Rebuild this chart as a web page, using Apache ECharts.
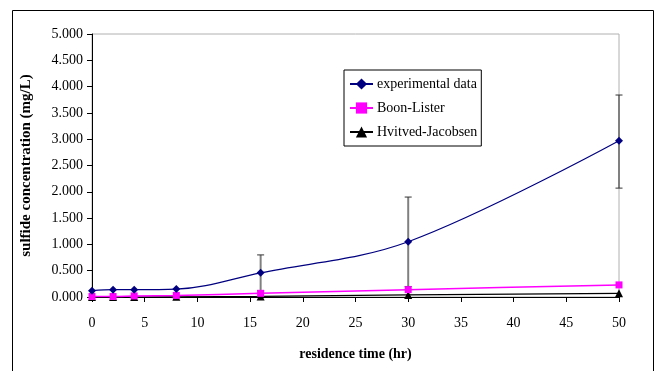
<!DOCTYPE html>
<html>
<head>
<meta charset="utf-8">
<script src="https://cdn.jsdelivr.net/npm/echarts@6/dist/echarts.min.js"></script>
<style>
html, body { margin: 0; padding: 0; background: #fff; }
#main { width: 659px; height: 371px; }
</style>
</head>
<body>
<div id="main"></div>
<script>
// residence time (hr)
var times = [0, 2, 4, 8, 16, 30, 50];
var experimental = [0.12, 0.14, 0.14, 0.15, 0.46, 1.05, 2.97];
var boonLister = [0.01, 0.01, 0.02, 0.03, 0.07, 0.14, 0.23];
var hvitved = [0.0, 0.0, 0.0, 0.005, 0.01, 0.04, 0.07];
// error bars on the experimental data: [time, low, high]
var errTimes = [16, 30, 50];
var errLow = [0.12, 0.20, 2.07];
var errHigh = [0.80, 1.90, 3.84];

function pairs(xs, ys) {
    return xs.map(function (x, i) { return [x, ys[i]]; });
}
var errData = errTimes.map(function (t, i) { return [t, errLow[i], errHigh[i]]; });

var dom = document.getElementById('main');
var chart = echarts.init(dom);
var serif = 'Liberation Serif';

var option = {
    animation: false,
    textStyle: { fontFamily: serif },
    graphic: [{
        type: 'rect',
        shape: { x: 12.5, y: 10.5, width: 641, height: 400 },
        style: { fill: 'none', stroke: '#000', lineWidth: 1 },
        z: -1
    }],
    grid: {
        left: 92, right: 40, top: 34, bottom: 74,
        show: true,
        borderColor: '#b0b0b0',
        borderWidth: 1
    },
    legend: {
        orient: 'vertical',
        left: 344, top: 70,
        padding: [7, 4, 7, 5],
        itemGap: 10,
        itemWidth: 23,
        itemHeight: 14,
        borderColor: '#000',
        borderWidth: 1,
        backgroundColor: '#fff',
        textStyle: { fontFamily: serif, fontSize: 14, color: '#000', padding: [0, 0, 0, -1] },
        data: ['experimental data', 'Boon-Lister', 'Hvitved-Jacobsen']
    },
    xAxis: {
        type: 'value',
        min: 0, max: 50, interval: 5,
        name: 'residence time (hr)',
        nameLocation: 'middle',
        nameGap: 50,
        nameTextStyle: { fontFamily: serif, fontWeight: 'bold', fontSize: 14, color: '#000' },
        axisLine: { lineStyle: { color: '#000', width: 1 } },
        axisTick: { inside: false, length: 5, lineStyle: { color: '#000' } },
        axisLabel: { fontFamily: serif, fontSize: 14, color: '#000', margin: 19 },
        splitLine: { show: false }
    },
    yAxis: {
        type: 'value',
        min: 0, max: 5, interval: 0.5,
        name: 'sulfide concentration (mg/L)',
        nameLocation: 'middle',
        nameGap: 58,
        nameTextStyle: { fontFamily: serif, fontWeight: 'bold', fontSize: 15, color: '#000' },
        axisLine: { show: true, lineStyle: { color: '#000', width: 1 } },
        axisTick: { show: true, length: 5, lineStyle: { color: '#000' } },
        axisLabel: {
            fontFamily: serif, fontSize: 14, color: '#000', margin: 9,
            formatter: function (v) { return v.toFixed(3); }
        },
        splitLine: { show: false }
    },
    series: [
        {
            name: 'error',
            type: 'custom',
            data: errData,
            z: 1,
            renderItem: function (params, api) {
                var x = api.value(0);
                var lo = api.coord([x, api.value(1)]);
                var hi = api.coord([x, api.value(2)]);
                var cap = 3.5;
                return {
                    type: 'group',
                    children: [
                        { type: 'line', shape: { x1: lo[0], y1: lo[1], x2: hi[0], y2: hi[1] },
                          style: { stroke: '#808080', lineWidth: 2 } },
                        { type: 'line', shape: { x1: hi[0] - cap, y1: hi[1], x2: hi[0] + cap, y2: hi[1] },
                          style: { stroke: '#333', lineWidth: 1 } },
                        { type: 'line', shape: { x1: lo[0] - cap, y1: lo[1], x2: lo[0] + cap, y2: lo[1] },
                          style: { stroke: '#333', lineWidth: 1 } }
                    ]
                };
            }
        },
        {
            name: 'Hvitved-Jacobsen',
            type: 'line',
            data: pairs(times, hvitved),
            symbol: 'triangle',
            symbolSize: 8,
            color: '#000',
            lineStyle: { width: 1.2, color: '#000' },
            z: 3
        },
        {
            name: 'Boon-Lister',
            type: 'line',
            data: pairs(times, boonLister),
            symbol: 'rect',
            symbolSize: 7,
            smooth: 0.3,
            color: '#ff00ff',
            lineStyle: { width: 1.5, color: '#ff00ff' },
            z: 4
        },
        {
            name: 'experimental data',
            type: 'line',
            data: pairs(times, experimental),
            symbol: 'diamond',
            symbolSize: 8,
            smooth: 0.35,
            color: '#000080',
            lineStyle: { width: 1.2, color: '#000080' },
            z: 5
        }
    ]
};

chart.setOption(option);
</script>
</body>
</html>
